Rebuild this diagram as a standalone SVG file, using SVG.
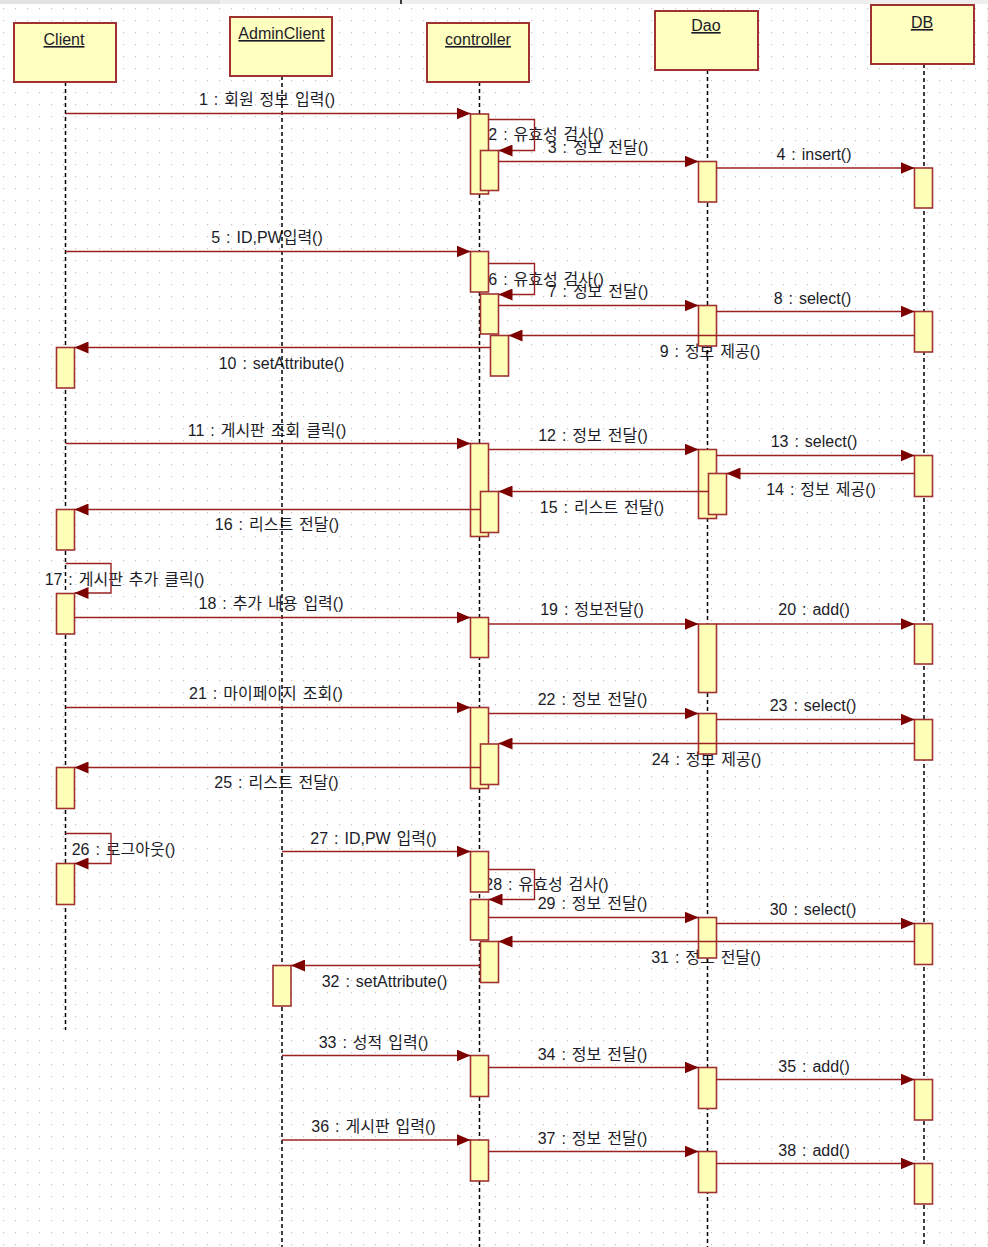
<svg xmlns="http://www.w3.org/2000/svg" width="988" height="1247" viewBox="0 0 988 1247">
<defs>
<pattern id="grid" x="3" y="8" width="12" height="12" patternUnits="userSpaceOnUse">
<rect x="0" y="0" width="1.2" height="1.2" fill="#c4c4c4"/>
</pattern>
<marker id="ah" markerWidth="14" markerHeight="12" refX="14" refY="6" orient="auto" markerUnits="userSpaceOnUse">
<path d="M0,0 L14,6 L0,12 z" fill="#7d0000"/>
</marker>
<style>
.box{fill:#ffffc0;stroke:#a03232;stroke-width:2}
.act{fill:#ffffb8;stroke:#a03232;stroke-width:1.6}
.life{stroke:#000;stroke-width:1.5;stroke-dasharray:4 3;fill:none}
.msg{stroke:#9a2222;stroke-width:1.4;fill:none;marker-end:url(#ah)}
.lbl{font-family:"Liberation Sans","Noto Sans CJK KR",sans-serif;font-size:16px;fill:#1c1c28;text-anchor:middle;word-spacing:1.5px}
.name{font-family:"Liberation Sans","Noto Sans CJK KR",sans-serif;font-size:16px;fill:#1c1c28;text-anchor:middle;text-decoration:underline}
</style>
</defs>
<rect x="0" y="0" width="988" height="1247" fill="#ffffff"/>
<rect x="0" y="0" width="988" height="1247" fill="url(#grid)"/>
<rect x="0" y="0" width="988" height="4" fill="#eeeeee"/>
<rect x="0" y="0" width="220" height="4" fill="#e2e2e2"/>
<line x1="401" y1="0" x2="401" y2="4" stroke="#000" stroke-width="1.5"/>

<g id="labels">
<text class="lbl" x="267" y="105">1 : 회원 정보 입력()</text>
<text class="lbl" x="546" y="140">2 : 유효성 검사()</text>
<text class="lbl" x="598" y="153">3 : 정보 전달()</text>
<text class="lbl" x="814" y="159.5">4 : insert()</text>
<text class="lbl" x="267" y="243">5 : ID,PW입력()</text>
<text class="lbl" x="546" y="285">6 : 유효성 검사()</text>
<text class="lbl" x="598" y="297">7 : 정보 전달()</text>
<text class="lbl" x="812.5" y="304">8 : select()</text>
<text class="lbl" x="710" y="357">9 : 정보 제공()</text>
<text class="lbl" x="281.5" y="369">10 : setAttribute()</text>
<text class="lbl" x="267" y="436">11 : 게시판 조회 클릭()</text>
<text class="lbl" x="593" y="440.5">12 : 정보 전달()</text>
<text class="lbl" x="814" y="447">13 : select()</text>
<text class="lbl" x="821" y="495">14 : 정보 제공()</text>
<text class="lbl" x="602" y="512.5">15 : 리스트 전달()</text>
<text class="lbl" x="277" y="530">16 : 리스트 전달()</text>
<text class="lbl" x="124.5" y="585">17 : 게시판 추가 클릭()</text>
<text class="lbl" x="271" y="608.5">18 : 추가 내용 입력()</text>
<text class="lbl" x="592" y="615">19 : 정보전달()</text>
<text class="lbl" x="814" y="615">20 : add()</text>
<text class="lbl" x="266" y="699">21 : 마이페이지 조회()</text>
<text class="lbl" x="592.5" y="705">22 : 정보 전달()</text>
<text class="lbl" x="813" y="711">23 : select()</text>
<text class="lbl" x="706.5" y="765">24 : 정보 제공()</text>
<text class="lbl" x="276.5" y="788">25 : 리스트 전달()</text>
<text class="lbl" x="123.5" y="855">26 : 로그아웃()</text>
<text class="lbl" x="373.5" y="844">27 : ID,PW 입력()</text>
<text class="lbl" x="546.5" y="890">28 : 유효성 검사()</text>
<text class="lbl" x="592.5" y="908.5">29 : 정보 전달()</text>
<text class="lbl" x="813" y="915">30 : select()</text>
<text class="lbl" x="706" y="962.5">31 : 정보 전달()</text>
<text class="lbl" x="384.5" y="986.5">32 : setAttribute()</text>
<text class="lbl" x="373.5" y="1047.5">33 : 성적 입력()</text>
<text class="lbl" x="592.5" y="1059.5">34 : 정보 전달()</text>
<text class="lbl" x="814" y="1071.5">35 : add()</text>
<text class="lbl" x="373.5" y="1131.5">36 : 게시판 입력()</text>
<text class="lbl" x="592.5" y="1144">37 : 정보 전달()</text>
<text class="lbl" x="814" y="1156">38 : add()</text>
</g>

<g id="client">
<line class="life" x1="65.5" y1="82" x2="65.5" y2="1030"/>
<rect class="box" x="14" y="23" width="102" height="59"/>
<text class="name" x="64" y="45">Client</text>
<rect class="act" x="56.5" y="347.5" width="18" height="40.5"/>
<rect class="act" x="56.5" y="509.5" width="18" height="40.5"/>
<rect class="act" x="56.5" y="593.5" width="18" height="40.5"/>
<rect class="act" x="56.5" y="767.5" width="18" height="41"/>
<rect class="act" x="56.5" y="863.5" width="18" height="41"/>
</g>

<g id="adminclient">
<line class="life" x1="282" y1="76" x2="282" y2="1247"/>
<rect class="box" x="230" y="17" width="102" height="59"/>
<text class="name" x="281.5" y="39">AdminClient</text>
<rect class="act" x="273" y="965.5" width="18" height="40.5"/>
</g>

<g id="controller">
<line class="life" x1="479.5" y1="82" x2="479.5" y2="1247"/>
<rect class="box" x="427" y="23" width="102" height="59"/>
<text class="name" x="478" y="45">controller</text>
<rect class="act" x="470.5" y="114" width="18" height="80"/>
<rect class="act" x="480.5" y="150.5" width="18" height="40"/>
<rect class="act" x="470.5" y="251.5" width="18" height="40.5"/>
<rect class="act" x="480.5" y="294" width="18" height="40"/>
<rect class="act" x="490.5" y="335.5" width="18" height="40.5"/>
<rect class="act" x="470.5" y="443.5" width="18" height="93"/>
<rect class="act" x="480.5" y="491.5" width="18" height="41"/>
<rect class="act" x="470.5" y="617.5" width="18" height="40"/>
<rect class="act" x="470.5" y="707.5" width="18" height="81"/>
<rect class="act" x="480.5" y="744" width="18" height="40.5"/>
<rect class="act" x="470.5" y="851.5" width="18" height="40.5"/>
<rect class="act" x="470.5" y="899.5" width="18" height="40.5"/>
<rect class="act" x="480.5" y="941.5" width="18" height="41"/>
<rect class="act" x="470.5" y="1055.5" width="18" height="41"/>
<rect class="act" x="470.5" y="1140" width="18" height="41"/>
</g>

<g id="dao">
<line class="life" x1="707.5" y1="70" x2="707.5" y2="1247"/>
<rect class="box" x="655" y="11" width="103" height="59"/>
<text class="name" x="706" y="31">Dao</text>
<rect class="act" x="698.5" y="161.5" width="18" height="40.5"/>
<rect class="act" x="698.5" y="305.5" width="18" height="40.5"/>
<rect class="act" x="698.5" y="449.5" width="18" height="69"/>
<rect class="act" x="708.5" y="473.5" width="18" height="41"/>
<rect class="act" x="698.5" y="624" width="18" height="68.5"/>
<rect class="act" x="698.5" y="713.5" width="18" height="40.5"/>
<rect class="act" x="698.5" y="917.5" width="18" height="40.5"/>
<rect class="act" x="698.5" y="1067.5" width="18" height="41"/>
<rect class="act" x="698.5" y="1151.5" width="18" height="41"/>
</g>

<g id="db">
<line class="life" x1="924" y1="64" x2="924" y2="1247"/>
<rect class="box" x="871" y="5" width="103" height="59"/>
<text class="name" x="922" y="28">DB</text>
<rect class="act" x="914.5" y="168" width="18" height="40"/>
<rect class="act" x="914.5" y="311.5" width="18" height="40.5"/>
<rect class="act" x="914.5" y="455.5" width="18" height="41"/>
<rect class="act" x="914.5" y="624" width="18" height="40"/>
<rect class="act" x="914.5" y="719.5" width="18" height="40.5"/>
<rect class="act" x="914.5" y="923.5" width="18" height="41"/>
<rect class="act" x="914.5" y="1079.5" width="18" height="40.5"/>
<rect class="act" x="914.5" y="1163.5" width="18" height="40.5"/>
</g>

<g id="connectors">
<path class="msg" d="M65.5,113.5 H470.5"/>
<path class="msg" d="M488.5,119.5 H534.5 V150.5 H498.5"/>
<path class="msg" d="M498.5,161.5 H698.5"/>
<path class="msg" d="M716.5,168 H914.5"/>
<path class="msg" d="M65.5,251.5 H470.5"/>
<path class="msg" d="M488.5,263.5 H534.5 V294.5 H498.5"/>
<path class="msg" d="M498.5,305.5 H698.5"/>
<path class="msg" d="M716.5,311.5 H914.5"/>
<path class="msg" d="M914.5,335.5 H508.5"/>
<path class="msg" d="M490.5,347.5 H74.5"/>
<path class="msg" d="M65.5,443.5 H470.5"/>
<path class="msg" d="M488.5,449.5 H698.5"/>
<path class="msg" d="M716.5,455.5 H914.5"/>
<path class="msg" d="M914.5,473.5 H726.5"/>
<path class="msg" d="M708.5,491.5 H498.5"/>
<path class="msg" d="M480.5,509.5 H74.5"/>
<path class="msg" d="M65.5,563.5 H111 V593 H74.5"/>
<path class="msg" d="M74.5,617.5 H470.5"/>
<path class="msg" d="M488.5,624 H698.5"/>
<path class="msg" d="M716.5,624 H914.5"/>
<path class="msg" d="M65.5,707.5 H470.5"/>
<path class="msg" d="M488.5,713.5 H698.5"/>
<path class="msg" d="M716.5,719.5 H914.5"/>
<path class="msg" d="M914.5,743.5 H498.5"/>
<path class="msg" d="M480.5,767.5 H74.5"/>
<path class="msg" d="M65.5,833.5 H111 V863.5 H74.5"/>
<path class="msg" d="M282,851.5 H470.5"/>
<path class="msg" d="M488.5,869.5 H534.5 V899.5 H488.5"/>
<path class="msg" d="M488.5,917.5 H698.5"/>
<path class="msg" d="M716.5,923.5 H914.5"/>
<path class="msg" d="M914.5,941.5 H498.5"/>
<path class="msg" d="M480.5,965.5 H291"/>
<path class="msg" d="M282,1055.5 H470.5"/>
<path class="msg" d="M488.5,1067.5 H698.5"/>
<path class="msg" d="M716.5,1079.5 H914.5"/>
<path class="msg" d="M282,1140 H470.5"/>
<path class="msg" d="M488.5,1151.5 H698.5"/>
<path class="msg" d="M716.5,1163.5 H914.5"/>
</g>
</svg>
